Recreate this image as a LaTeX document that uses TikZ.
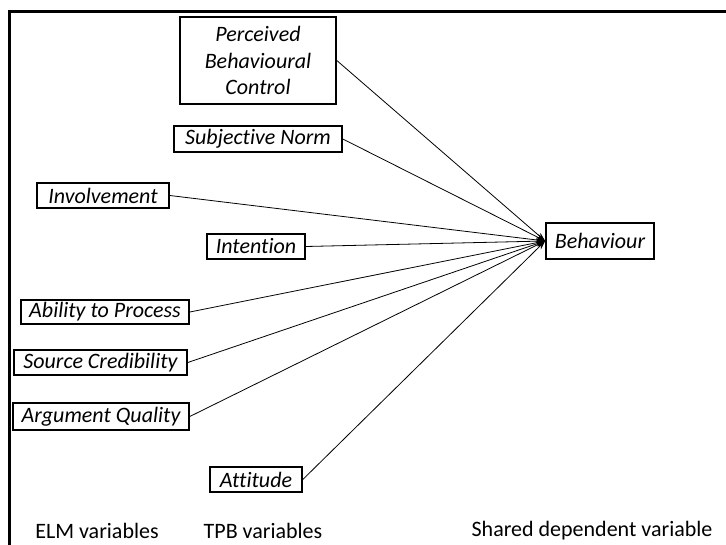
\documentclass[tikz,border=0pt]{standalone}
\usepackage{fontspec}
\setmainfont[Ligatures=NoCommon]{Carlito}
\usetikzlibrary{arrows.meta}
\begin{document}
\begin{tikzpicture}[x=1pt,y=-1pt,
  var/.style={draw,line width=1.6pt,inner sep=0pt,align=center,font=\fontsize{22}{26.5}\selectfont\itshape},
  lbl/.style={inner sep=0pt,font=\fontsize{22}{26}\selectfont},
  link/.style={line width=0.8pt,-{Stealth[length=9pt,width=6pt]}}]
\useasboundingbox (0,0) rectangle (726,545);
\draw[line width=3pt] (9,548) -- (9,12) -- (728,12);
\node[var,minimum width=156pt,minimum height=87pt] (pbc) at (258,60.5) {Perceived\\Behavioural\\Control};
\node[var,minimum width=168pt,minimum height=26pt] (sn) at (258,139) {Subjective Norm};
\node[var,minimum width=132pt,minimum height=25pt] (inv) at (103,195.5) {Involvement};
\node[var,minimum width=98pt,minimum height=25pt] (int) at (256,246.5) {Intention};
\node[var,minimum width=168pt,minimum height=24pt] (atp) at (105,312) {Ability to Process};
\node[var,minimum width=173pt,minimum height=25pt] (sc) at (100.5,362.5) {Source Credibility};
\node[var,minimum width=176pt,minimum height=27pt] (aq) at (101,416.5) {Argument Quality};
\node[var,minimum width=92pt,minimum height=25pt] (att) at (256,479.5) {Attitude};
\node[var,minimum width=108pt,minimum height=36pt] (beh) at (600,241) {Behaviour};
\foreach \s in {pbc,sn,inv,int,atp,sc,aq,att}
  \draw[link] (\s.east) -- (beh.west);
\node[lbl] (elm) at (97,531) {ELM variables};
\node[lbl] (tpb) at (263,531) {TPB variables};
\node[lbl] (shd) at (592,531) {Shared dependent variable};
\end{tikzpicture}
\end{document}
